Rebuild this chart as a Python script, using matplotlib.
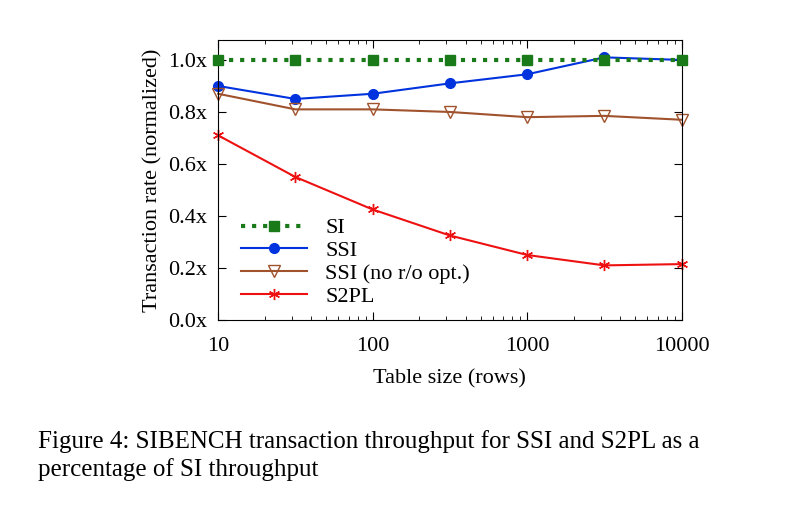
import matplotlib as mpl
mpl.use('Agg')
import matplotlib.pyplot as plt
from matplotlib.ticker import FixedLocator, FuncFormatter

plt.rcParams['font.family'] = ['Liberation Serif', 'DejaVu Serif']

table_size = [10, 31.6, 100, 316, 1000, 3162, 10000]
si = [1.0, 1.0, 1.0, 1.0, 1.0, 1.0, 1.0]
ssi = [0.90, 0.85, 0.87, 0.91, 0.945, 1.01, 1.0]
ssi_noro = [0.87, 0.81, 0.81, 0.80, 0.78, 0.785, 0.77]
s2pl = [0.71, 0.55, 0.425, 0.325, 0.25, 0.21, 0.215]

fig = plt.figure(figsize=(8.02, 5.12), dpi=100)
ax = fig.add_axes([0.272, 0.375, 0.578, 0.547])

ax.plot(table_size, si, color='#1a7a1a', linestyle=':', linewidth=3,
        marker='s', markersize=7, label='SI', zorder=5, clip_on=False)
ax.plot(table_size, ssi, color='#0033dd', linewidth=1.5,
        marker='o', markersize=7, label='SSI', clip_on=False)
ax.plot(table_size, ssi_noro, color='#a0522d', linewidth=1.5,
        marker='v', markersize=8, markerfacecolor='none', label='SSI (no r/o opt.)',
        clip_on=False)
ax.plot(table_size, s2pl, color='#ee1111', linewidth=1.5,
        marker=(6, 2, 0), markersize=8, label='S2PL', clip_on=False)

ax.set_xscale('log')
ax.set_xlim(10, 10000)
ax.set_ylim(0, 1.077)
ax.yaxis.set_major_locator(FixedLocator([0, 0.2, 0.4, 0.6, 0.8, 1.0]))
ax.yaxis.set_major_formatter(FuncFormatter(lambda v, p: '%.1fx' % v))
ax.xaxis.set_major_formatter(FuncFormatter(lambda v, p: '%d' % v))
ax.tick_params(direction='in', top=True, right=True, labelsize=16, length=6)
ax.tick_params(axis='x', pad=12)
ax.tick_params(axis='y', pad=8)
ax.tick_params(which='minor', direction='in', top=True, right=True, length=3)
ax.set_xlabel('Table size (rows)', fontsize=16, labelpad=10)
ax.set_ylabel('Transaction rate (normalized)', fontsize=16)

ax.legend(loc='lower left', frameon=False, fontsize=16, handlelength=3,
          borderaxespad=0.2, labelspacing=0.1, bbox_to_anchor=(0.02, 0.0))

fig.text(0.048, 0.16, 'Figure 4: SIBENCH transaction throughput for SSI and S2PL as a\n'
         'percentage of SI throughput', fontsize=18, va='top', linespacing=1.3)

fig.savefig('out.png', dpi=100)
